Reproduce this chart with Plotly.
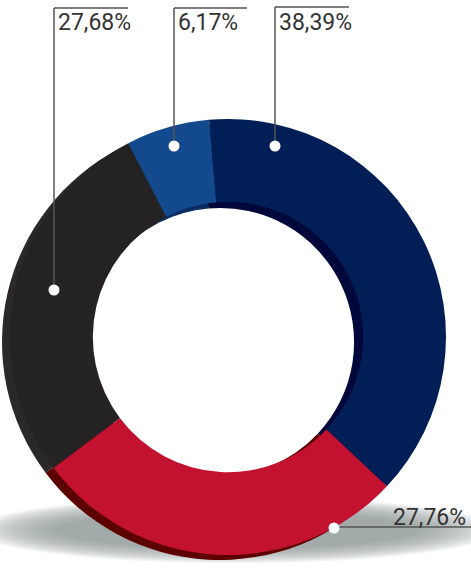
import plotly.graph_objects as go

# ---- data ----
categories = ["Navy", "Red", "Black", "Blue"]
values = [38.39, 27.76, 27.68, 6.17]
label_texts = ["38,39%", "27,76%", "27,68%", "6,17%"]
front_colors = ["#021E57", "#C2122F", "#252223", "#134A8E"]
depth_colors = ["#00073A", "#5C0000", "#2B2829", "#0B2C63"]

W, H = 471, 571
def px(x): return min(max(x / W, 0), 1)
def py(y): return min(max(1 - y / H, 0), 1)

cx, cy, d = 228, 337, 436
off_x, off_y = -8, 5

fig = go.Figure()

# depth (back) ring
fig.add_trace(go.Pie(
    values=values, labels=categories, sort=False, direction="clockwise",
    rotation=-5, hole=0.615, textinfo="none", hoverinfo="skip",
    marker=dict(colors=depth_colors, line=dict(width=0)),
    domain=dict(x=[px(cx + off_x - d/2), px(cx + off_x + d/2)],
                y=[py(cy + off_y + d/2), py(cy + off_y - d/2)]),
    showlegend=False))

# front ring
fig.add_trace(go.Pie(
    values=values, labels=categories, sort=False, direction="clockwise",
    rotation=-5, hole=0.62, textinfo="none",
    marker=dict(colors=front_colors, line=dict(width=0)),
    domain=dict(x=[px(cx - d/2), px(cx + d/2)],
                y=[py(cy + d/2), py(cy - d/2)]),
    showlegend=False))

shapes = []
# shadow (soft ellipse built from stacked translucent ellipses)
n = 12
for i in range(n):
    t = i / (n - 1)
    sx = 262 - 80 * t
    sy = 33 - 15 * t
    shapes.append(dict(type="circle", xref="paper", yref="paper", layer="below",
                       x0=(236 - sx) / W, x1=(236 + sx) / W,
                       y0=1 - (530 + sy) / H, y1=1 - (530 - sy) / H,
                       fillcolor="#8d8e92", opacity=0.11, line=dict(width=0)))

line_col = "#555555"
font = dict(family="Roboto, sans-serif", size=23, color="#333333")
top_leaders = [
    (2, 54, 290, 54, 128, 8),
    (3, 174, 146, 174, 247, 8),
    (0, 275, 146, 275, 349, 7),
]
annotations = []
for idx, dx, dy, lx0, lx1, ly in top_leaders:
    shapes.append(dict(type="line", xref="paper", yref="paper",
                       x0=px(dx), y0=py(dy), x1=px(lx0), y1=py(ly),
                       line=dict(color=line_col, width=1.5)))
    shapes.append(dict(type="line", xref="paper", yref="paper",
                       x0=px(lx0), y0=py(ly), x1=px(lx1), y1=py(ly),
                       line=dict(color=line_col, width=1.5)))
    shapes.append(dict(type="circle", xref="paper", yref="paper",
                       x0=px(dx - 5.5), x1=px(dx + 5.5), y0=py(dy + 5.5), y1=py(dy - 5.5),
                       fillcolor="white", line=dict(width=0)))
    annotations.append(dict(xref="paper", yref="paper", x=px(lx0 + 2), y=py(23),
                            xanchor="left", yanchor="middle", showarrow=False,
                            text=label_texts[idx], font=font))

# bottom-right label (red)
shapes.append(dict(type="line", xref="paper", yref="paper",
                   x0=px(334), y0=py(527), x1=px(471), y1=py(527),
                   line=dict(color=line_col, width=1.5)))
shapes.append(dict(type="circle", xref="paper", yref="paper",
                   x0=px(334 - 5.5), x1=px(334 + 5.5), y0=py(528 + 5.5), y1=py(528 - 5.5),
                   fillcolor="white", line=dict(width=0)))
annotations.append(dict(xref="paper", yref="paper", x=px(468), y=py(517),
                        xanchor="right", yanchor="middle", showarrow=False,
                        text=label_texts[1], font=font))

fig.update_layout(width=W, height=H, margin=dict(l=0, r=0, t=0, b=0),
                  paper_bgcolor="white", plot_bgcolor="white",
                  shapes=shapes, annotations=annotations)

fig.write_html("out.html", config={"displayModeBar": False},
               post_script="document.body.style.margin='0px';document.body.style.padding='0px';")
